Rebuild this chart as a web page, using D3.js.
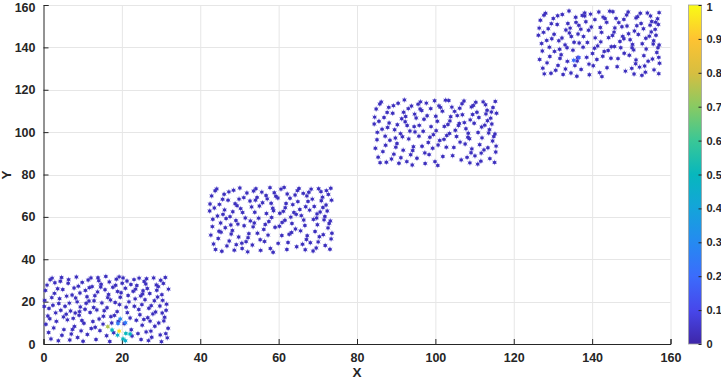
<!DOCTYPE html>
<html>
<head>
<meta charset="utf-8">
<script src="https://cdn.jsdelivr.net/npm/d3@7"></script>
<style>
body { margin: 0; background: #fff; }
text { font-family: "Liberation Sans", Arial, sans-serif; font-weight: bold; fill: #262626; }
</style>
</head>
<body>
<div id="chart"></div>
<script>
// tick labels
const xTicks = [0, 20, 40, 60, 80, 100, 120, 140, 160];
const yTicks = [0, 20, 40, 60, 80, 100, 120, 140, 160];
const cbTicks = [0, 0.1, 0.2, 0.3, 0.4, 0.5, 0.6, 0.7, 0.8, 0.9, 1];

// colour value of the ordinary points
const baseValue = 0.08;

// points, one array per cluster, [x, y]
const cluster1 = [[13.2,7.9],[27.5,18.1],[4.3,29.6],[19.8,24.2],[8.7,3.1],[30.9,12.6],[1.4,16.8],[23.1,30.4],[11.6,20.3],[16.9,1.2],[26.2,5.7],[6.1,11.4],[21.4,14.8],[2.8,23.9],[29.3,27.1],[14.7,28.2],[9.4,17.5],[31.6,2.9],[18.3,19.6],[5.2,6.8],[24.8,22.7],[12.1,31.2],[0.6,9.3],[28.4,8.4],[17.2,12.9],[7.8,26.4],[22.6,3.8],[3.9,19.1],[30.2,23.3],[15.5,15.7],[10.3,9.8],[25.7,29.5],[20.1,28.7],[1.9,2.4],[27.9,14.2],[8.2,21.7],[13.8,24.6],[31.1,31.4],[5.8,14.1],[23.7,11.2],[16.4,21.9],[0.9,27.8],[26.8,1.6],[11.2,4.5],[19.3,31.7],[29.7,17.9],[3.3,10.7],[24.3,16.3],[9.9,29.1],[14.2,11.8],[21.8,19.9],[6.7,1.9],[28.9,25.4],[17.7,26.8],[2.2,31.1],[25.2,8.9],[12.8,17.2],[31.8,7.4],[7.3,23.1],[22.9,24.9],[4.7,4.1],[18.8,15.3],[10.7,25.3],[30.4,20.6],[15.9,31.9],[1.1,13.2],[26.5,26.2],[9.1,13.6],[24.1,4.9],[13.4,2.1],[28.1,31.2],[5.5,17.8],[20.6,9.6],[16.8,29.3],[3.6,26.1],[29.8,4.3],[11.9,14.9],[25.9,20.9],[7.9,8.3],[19.6,22.1],[0.3,20.6],[27.2,10.8],[14.9,19.4],[22.3,28.1],[6.4,30.4],[31.3,15.9],[10.1,1.3],[17.9,5.3],[2.6,7.6],[24.6,13.8],[12.4,27.1],[29.1,22.2],[8.6,19.9],[21.1,17.4],[4.9,25.7],[26.3,30.8],[15.2,9.4],[1.7,30.3],[30.6,28.6],[18.1,13.5],[9.6,6.2],[23.4,21.3],[13.1,22.8],[6.9,15.6],[27.6,3.2],[16.2,17.1],[3.1,14.7],[25.4,25.1],[11.4,30.2],[20.9,26.3],[7.1,4.7],[29.4,9.9],[14.4,6.3],[22.1,12.3],[4.1,21.4],[31.9,25.9],[18.6,30.6],[10.6,16.4],[26.9,16.9],[1.3,5.4],[24.9,2.1],[12.6,10.6],[28.3,20.4],[8.4,31.6],[19.4,18.6],[5.1,12.8],[23.8,27.6],[15.7,25.6],[2.4,18.3],[30.1,1.1],[9.3,24.1],[21.6,22.9],[13.6,16.1],[6.3,28.7],[27.1,23.8],[17.4,9.9],[0.5,25.3],[25.6,11.6],[11.1,22.3],[31.4,18.8],[7.6,12.1],[20.3,31.2],[14.1,29.9],[3.8,1.5],[28.6,15.1],[16.6,23.4],[9.8,11.1],[23.2,17.8],[5.9,22.6],[26.1,28.3],[12.2,7.3],[29.9,30.1],[18.4,27.7],[1.6,11.9],[22.4,6.7],[8.9,27.3],[15.3,13.1],[30.7,10.9],[4.4,15.9],[24.4,31.1],[10.9,19.2],[27.4,6.1],[2.9,28.9],[19.1,10.7],[13.9,31.3],[6.6,19.3],[25.1,18.6],[11.7,26.6],[31.2,4.9],[17.1,20.8],[0.2,17.7],[28.8,27.9],[8.1,14.6],[23.5,25.9],[16.1,3.9],[4.6,31.4],[21.3,29.7],[12.9,20.4],[26.6,12.4],[7.4,6.9],[30.3,14.6],[14.6,26.9],[2.1,21.9],[25.3,23.6],[9.2,15.3],[18.9,24.8]];

const cluster2 = [[55.3,49.2],[69.8,61.4],[46.1,70.7],[61.9,66.3],[50.7,45.1],[72.6,54.8],[43.2,58.9],[64.8,72.4],[53.9,62.2],[58.6,43.3],[68.1,47.8],[48.2,53.6],[63.4,56.9],[44.9,65.9],[71.2,69.3],[56.8,70.1],[51.5,59.5],[73.1,44.7],[60.3,61.7],[47.4,48.6],[66.9,64.8],[54.2,73.3],[42.7,51.4],[70.4,50.6],[59.1,55.1],[49.9,68.4],[64.6,45.9],[45.8,61.2],[72.1,65.6],[57.5,57.8],[52.4,52.1],[67.7,71.6],[62.2,70.8],[43.9,44.6],[69.9,56.3],[50.3,63.9],[55.9,66.7],[73.3,73.5],[47.8,56.2],[65.6,53.4],[58.5,64.1],[42.9,69.9],[68.8,43.9],[53.3,46.7],[61.4,73.9],[71.8,60.2],[45.3,52.8],[66.4,58.5],[51.9,71.3],[56.2,54.1],[63.9,62.1],[48.7,44.3],[70.9,67.6],[59.8,68.9],[44.2,73.2],[67.3,51.1],[54.9,59.4],[73.4,49.6],[49.4,65.3],[64.9,67.2],[46.8,46.3],[60.9,57.4],[52.7,67.5],[72.4,62.8],[57.8,73.8],[43.1,55.4],[68.6,68.4],[51.2,55.8],[66.1,47.1],[55.4,44.2],[70.2,73.3],[47.6,60.1],[62.7,51.8],[58.9,71.4],[45.7,68.3],[71.9,46.5],[53.8,57.1],[67.9,63.2],[49.8,50.5],[61.7,64.3],[42.4,62.8],[69.3,53.1],[56.9,61.6],[64.2,70.3],[48.5,72.6],[73.2,58.1],[52.1,43.5],[59.9,47.5],[44.6,49.8],[66.7,55.9],[54.5,69.2],[71.3,64.4],[50.8,62.1],[63.1,59.9],[47.1,67.9],[68.3,73.1],[57.3,51.4],[43.8,72.3],[72.7,70.6],[60.2,55.6],[51.7,48.3],[65.4,63.5],[55.1,65.1],[49.1,58.3],[69.6,45.3],[58.2,59.7],[45.2,57.1],[67.5,67.3],[53.6,72.2],[62.9,68.8],[49.2,46.9],[71.4,51.6],[56.4,48.4],[64.3,54.3],[46.2,63.3],[73.5,67.9],[60.6,73.1],[52.8,58.1],[68.9,58.8],[43.4,47.2],[66.8,44.5],[54.6,52.3],[70.6,62.3],[50.1,73.6],[61.2,62.6],[47.9,51.9],[65.8,60.6],[44.4,60.4],[72.9,56.9],[59.3,69.7],[53.1,64.7],[67.1,49.3],[57.9,45.1],[70.8,71.9],[46.4,54.9],[63.6,65.8],[51.1,69.1],[42.5,66.1],[69.1,64.9],[55.7,71.7],[61.6,58.4],[48.3,62.4],[73.6,52.3],[58.1,66.4],[52.2,50.2],[65.2,73.4],[45.5,43.8],[71.6,58.6],[62.4,47.9],[49.6,56.6],[67.2,69.9],[56.6,56.4],[43.6,64.2],[60.8,51.2],[54.1,67.9],[70.1,48.2],[47.3,71.8],[64.5,61.2],[50.6,47.6],[72.2,72.4],[58.7,62.9],[44.8,53.2],[66.3,71.1],[53.5,55.3],[62.1,44.6],[48.9,66.2],[69.7,59.5],[57.1,68.5],[46.6,59.2],[63.3,52.6]];

const cluster3 = [[97.3,90.2],[111.8,102.4],[88.1,111.7],[103.9,107.3],[92.7,86.1],[114.6,95.8],[85.2,99.9],[106.8,113.4],[95.9,103.2],[100.6,84.3],[110.1,88.8],[90.2,94.6],[105.4,97.9],[86.9,106.9],[113.2,110.3],[98.8,111.1],[93.5,100.5],[115.1,85.7],[102.3,102.7],[89.4,89.6],[108.9,105.8],[96.2,114.3],[84.7,92.4],[112.4,91.6],[101.1,96.1],[91.9,109.4],[106.6,86.9],[87.8,102.2],[114.1,106.6],[99.5,98.8],[94.4,93.1],[109.7,112.6],[104.2,111.8],[85.9,85.6],[111.9,97.3],[92.3,104.9],[97.9,107.7],[115.3,114.5],[89.8,97.2],[107.6,94.4],[100.5,105.1],[84.9,110.9],[110.8,84.9],[95.3,87.7],[103.4,114.9],[113.8,101.2],[87.3,93.8],[108.4,99.5],[93.9,112.3],[98.2,95.1],[105.9,103.1],[90.7,85.3],[112.9,108.6],[101.8,109.9],[86.2,114.2],[109.3,92.1],[96.9,100.4],[115.4,90.6],[91.4,106.3],[106.9,108.2],[88.8,87.3],[102.9,98.4],[94.7,108.5],[114.4,103.8],[99.8,114.8],[85.1,96.4],[110.6,109.4],[93.2,96.8],[108.1,88.1],[97.4,85.2],[112.2,114.3],[89.6,101.1],[104.7,92.8],[100.9,112.4],[87.7,109.3],[113.9,87.5],[95.8,98.1],[109.9,104.2],[91.8,91.5],[103.7,105.3],[84.4,103.8],[111.3,94.1],[98.9,102.6],[106.2,111.3],[90.5,113.6],[115.2,99.1],[94.1,84.5],[101.9,88.5],[86.6,90.8],[108.7,96.9],[96.5,110.2],[113.3,105.4],[92.8,103.1],[105.1,100.9],[89.1,108.9],[110.3,114.1],[99.3,92.4],[85.8,113.3],[114.7,111.6],[102.2,96.6],[93.7,89.3],[107.4,104.5],[97.1,106.1],[91.1,99.3],[111.6,86.3],[100.2,100.7],[87.2,98.1],[109.5,108.3],[95.6,113.2],[104.9,109.8],[91.2,87.9],[113.4,92.6],[98.4,89.4],[106.3,95.3],[88.2,104.3],[115.6,108.9],[102.6,115.1],[94.8,100.1],[110.9,99.8],[85.4,88.2],[108.8,85.5],[96.6,93.3],[112.6,103.3],[92.1,115.2],[103.2,103.6],[89.9,92.9],[107.8,101.6],[86.4,101.4],[114.9,97.9],[101.3,111.7],[95.1,106.7],[109.1,90.3],[99.9,86.1],[112.8,112.9],[88.4,96.2],[105.6,107.8],[93.1,111.1],[84.5,107.1],[111.1,106.9],[97.7,113.7],[103.6,99.4],[90.3,103.5],[115.5,93.4],[100.1,107.5],[94.2,91.3],[107.3,114.7],[87.5,85.8],[113.6,99.6],[104.4,88.9],[91.6,97.8],[109.2,111.9],[98.6,97.6],[85.6,105.1],[102.8,92.9],[96.1,110.9],[111.7,90.1],[89.3,112.5],[106.1,104.1],[94.6,102.6],[114.3,109.5],[100.7,93.9],[92.4,107.4],[108.3,97.6]];

const cluster4 = [[139.2,132.1],[153.7,144.3],[130.1,153.6],[145.8,149.2],[134.6,127.9],[156.5,137.6],[127.1,141.8],[148.8,155.3],[137.8,145.1],[142.5,126.2],[152.1,130.7],[132.1,136.5],[147.3,139.8],[128.8,148.8],[155.2,152.2],[140.7,153.1],[135.4,142.4],[157.0,127.6],[144.2,144.6],[131.3,131.5],[150.8,147.7],[138.1,156.2],[126.6,134.3],[154.3,133.5],[143.1,138.1],[133.8,151.3],[148.5,128.8],[129.7,144.1],[156.1,148.5],[141.4,140.7],[136.3,135.1],[151.6,154.5],[146.1,153.7],[127.8,127.5],[153.8,139.2],[134.2,146.8],[139.8,149.6],[157.1,156.4],[131.7,139.1],[149.5,136.3],[142.4,147.1],[126.8,152.8],[152.7,126.8],[137.2,129.6],[145.3,156.8],[155.7,143.1],[129.2,135.7],[150.3,141.4],[135.8,154.2],[140.1,137.1],[147.8,145.2],[132.6,127.2],[154.8,150.5],[143.7,151.8],[128.1,156.1],[151.2,134.1],[138.8,142.3],[157.2,132.5],[133.3,148.2],[148.9,150.1],[130.7,129.2],[144.9,140.3],[136.6,150.4],[156.3,145.7],[141.7,156.7],[127.3,138.3],[152.5,151.3],[135.1,138.7],[150.1,130.1],[139.3,127.1],[154.1,156.2],[131.5,143.1],[146.6,134.7],[142.8,154.3],[129.6,151.2],[155.8,129.4],[137.7,140.1],[151.8,146.1],[133.7,133.4],[145.6,147.2],[126.3,145.7],[153.2,136.1],[140.8,144.5],[148.1,153.2],[132.4,155.5],[157.1,141.1],[136.1,126.4],[143.8,130.4],[128.5,132.7],[150.6,138.8],[138.4,152.1],[155.1,147.3],[134.7,145.1],[147.1,142.8],[131.1,150.8],[152.3,156.1],[141.2,134.3],[127.7,155.2],[156.7,153.5],[144.1,138.5],[135.6,131.4],[149.3,146.4],[139.1,148.1],[133.1,141.2],[153.6,128.3],[142.2,142.6],[129.1,140.1],[151.4,150.2],[137.5,155.1],[146.8,151.7],[133.2,129.8],[155.4,134.5],[140.3,131.3],[148.2,137.2],[130.3,146.2],[156.9,150.8],[144.5,157.1],[136.7,142.1],[152.8,141.7],[127.4,130.2],[150.7,127.4],[138.6,135.3],[154.6,145.3],[134.1,157.2],[145.2,145.6],[131.8,134.8],[149.7,143.6],[128.4,143.3],[156.8,139.8],[143.3,153.6],[137.1,148.6],[151.1,132.3],[141.9,128.1],[154.9,154.8],[130.4,138.1],[147.6,149.7],[135.9,151.8],[126.5,149.1],[153.1,148.8],[139.6,155.7],[145.7,140.4],[132.3,144.4],[157.0,135.3],[142.1,149.4],[136.2,133.6],[149.2,156.7],[129.5,127.8],[155.6,141.6],[146.4,130.9],[133.6,139.8],[151.2,153.9],[140.6,139.6],[127.6,147.1],[144.8,134.9],[138.1,154.8],[153.4,131.2],[131.2,154.9],[148.1,144.1],[136.4,146.3],[156.2,151.9],[142.7,135.8],[134.4,149.1],[150.2,139.8]];

// the few points with a higher colour value
const hotX = [16.4, 17.5, 19.6, 19.0, 20.9, 19.3, 18.9, 21.0, 22.1, 20.3, 20.9, 135.3, 136.6];
const hotY = [8.2, 6.6, 11.8, 9.7, 10.0, 6.1, 4.2, 5.0, 4.7, 2.4, 1.5, 133.9, 135.2];
const hotC = [0.75, 0.5, 0.3, 0.25, 0.25, 0.95, 0.45, 0.5, 0.5, 0.5, 0.45, 0.2, 0.15];

// parula colormap stops
const parula = ["#3e26a8", "#4747eb", "#3b6cfc", "#258af1", "#14a4da", "#07b7bd",
                "#3ac796", "#88ca63", "#d7be40", "#fec332", "#f9fb15"];

const W = 721, H = 381;
const svg = d3.select("#chart").append("svg")
    .attr("width", W)
    .attr("height", H);

let x = d3.scaleLinear().domain([0, 160]).range([43.5, 670.5]);
let y = d3.scaleLinear().domain([0, 160]).range([344, 5]);
let color = d3.scaleLinear()
    .domain(parula.map((d, i) => i / (parula.length - 1)))
    .range(parula)
    .interpolate(d3.interpolateRgb);

// grid
svg.append("g").selectAll("line").data(xTicks.slice(1)).join("line")
    .attr("x1", d => x(d) + 0.5).attr("x2", d => x(d) + 0.5)
    .attr("y1", y(160)).attr("y2", y(0))
    .attr("stroke", "#e6e6e6");
svg.append("g").selectAll("line").data(yTicks.slice(1)).join("line")
    .attr("y1", d => Math.round(y(d)) + 0.5).attr("y2", d => Math.round(y(d)) + 0.5)
    .attr("x1", x(0)).attr("x2", x(160))
    .attr("stroke", "#e6e6e6");

// axes
let xAxis = svg.append("g")
    .attr("transform", "translate(0," + y(0) + ")")
    .call(d3.axisBottom(x).tickValues(xTicks).tickSize(-5).tickPadding(9));
let yAxis = svg.append("g")
    .attr("transform", "translate(" + x(0) + ",0)")
    .call(d3.axisLeft(y).tickValues(yTicks).tickSize(-5).tickPadding(8));
[xAxis, yAxis].forEach(function (a) {
    a.select(".domain").attr("stroke", "#262626");
    a.selectAll(".tick line").attr("stroke", "#262626");
    a.selectAll("text").attr("font-size", 12.5).attr("fill", "#262626")
        .style("font-family", "'Liberation Sans', Arial, sans-serif").style("font-weight", "bold");
});
yAxis.selectAll(".tick").filter(d => d === 160).select("text").attr("dy", "0.5em");

// points
let symbolType = d3.symbolAsterisk || d3.symbolCross;
let marker = d3.symbol().type(symbolType).size(20);
let all = [];
[cluster1, cluster2, cluster3, cluster4].forEach(function (c) {
    c.forEach(function (p) { all.push({x: p[0], y: p[1], c: baseValue}); });
});
hotX.forEach(function (v, i) { all.push({x: v, y: hotY[i], c: hotC[i]}); });

let pts = svg.append("g").selectAll("g").data(all).join("g")
    .attr("transform", d => "translate(" + x(d.x) + "," + y(d.y) + ")");
pts.append("path")
    .attr("d", marker)
    .attr("fill", "none")
    .attr("stroke", d => d.c === baseValue ? "#5a4fd0" : color(d.c))
    .attr("stroke-width", 1)
    .attr("stroke-opacity", 0.55);
pts.append("circle")
    .attr("r", 1.7)
    .attr("fill", d => d.c === baseValue ? "#3d30bd" : color(d.c));

// axis titles
svg.append("text").attr("x", 357).attr("y", 377).attr("text-anchor", "middle")
    .attr("font-size", 13.5).text("X");
svg.append("text").attr("transform", "translate(11,175) rotate(-90)")
    .attr("text-anchor", "middle").attr("font-size", 13.5).text("Y");

// colorbar
let cb = d3.scaleLinear().domain([0, 1]).range([344, 5]);
let grad = svg.append("defs").append("linearGradient")
    .attr("id", "parula").attr("x1", 0).attr("y1", 1).attr("x2", 0).attr("y2", 0);
grad.selectAll("stop").data(parula).join("stop")
    .attr("offset", (d, i) => i / (parula.length - 1))
    .attr("stop-color", d => d);
svg.append("rect")
    .attr("x", 688.5).attr("y", cb(1))
    .attr("width", 13).attr("height", cb(0) - cb(1))
    .attr("fill", "url(#parula)")
    .attr("stroke", "#a0a0a0").attr("stroke-width", 0.8);
let cbAxis = svg.append("g")
    .attr("transform", "translate(701.5,0)")
    .call(d3.axisRight(cb).tickValues(cbTicks).tickSize(-3).tickPadding(5).tickFormat(d => String(d)));
cbAxis.select(".domain").remove();
cbAxis.selectAll(".tick line").attr("stroke", "#262626");
cbAxis.selectAll("text").attr("font-size", 11).attr("fill", "#262626")
    .style("font-family", "'Liberation Sans', Arial, sans-serif").style("font-weight", "bold");
cbAxis.selectAll(".tick").filter(d => d === 1).select("text").attr("dy", "0.5em");
</script>
</body>
</html>
